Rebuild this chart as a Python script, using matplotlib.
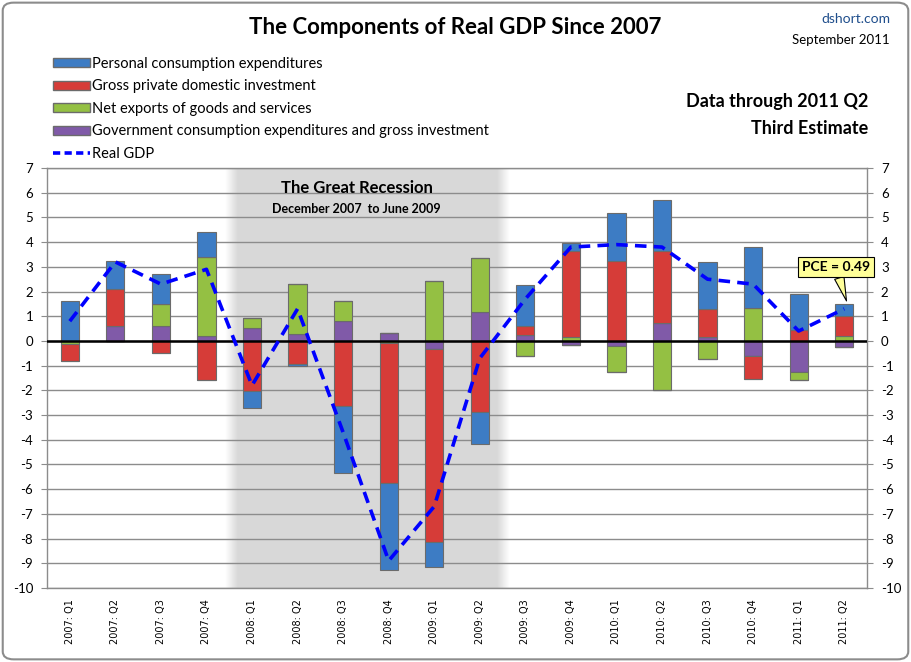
"""
Components of real GDP since 2007 - stacked contributions with real GDP line.
"""
import matplotlib.pyplot as plt
import numpy as np
from matplotlib.lines import Line2D
from matplotlib.patches import FancyBboxPatch, Patch

plt.rcParams["axes.unicode_minus"] = False

# ---------------------------------------------------------------------------
# Data (percentage-point contributions to real GDP growth)
# ---------------------------------------------------------------------------
quarters = ["2007: Q1", "2007: Q2", "2007: Q3", "2007: Q4",
            "2008: Q1", "2008: Q2", "2008: Q3", "2008: Q4",
            "2009: Q1", "2009: Q2", "2009: Q3", "2009: Q4",
            "2010: Q1", "2010: Q2", "2010: Q3", "2010: Q4",
            "2011: Q1", "2011: Q2"]
pce = [1.62, 1.11, 1.22, 1.01, -0.68, -0.08, -2.70, -3.53, -1.01,
       -1.31, 1.66, 0.31, 1.96, 2.07, 1.88, 2.50, 1.46, 0.49]
gpdi = [-0.68, 1.49, -0.47, -1.58, -2.03, -0.93, -2.64, -5.64, -7.80,
        -2.86, 0.36, 3.51, 3.22, 2.92, 1.16, -0.95, 0.45, 0.82]
net_exports = [-0.14, 0.00, 0.88, 3.20, 0.41, 2.03, 0.80, -0.10, 2.41,
               2.20, -0.61, 0.14, -1.04, -2.00, -0.73, 1.32, -0.36, 0.20]
government = [0.00, 0.62, 0.62, 0.18, 0.51, 0.28, 0.82, 0.31, -0.34,
              1.16, 0.24, -0.18, -0.20, 0.73, 0.14, -0.59, -1.24, -0.23]
real_gdp = [0.8, 3.2, 2.3, 2.9, -1.8, 1.3, -3.7, -8.9, -6.7,
            -0.7, 1.7, 3.8, 3.9, 3.8, 2.5, 2.3, 0.4, 1.3]

COLORS = {
    "pce":  "#3d7cc4",
    "gpdi": "#d63c38",
    "nx":   "#94c043",
    "gov":  "#805aa8",
}
EDGE = "#6b6b6b"
FONT = "Lato"

# stacking order used by the original chart (bottom -> top)
stack = [
    (government, COLORS["gov"]),
    (net_exports, COLORS["nx"]),
    (gpdi, COLORS["gpdi"]),
    (pce, COLORS["pce"]),
]

fig = plt.figure(figsize=(9.11, 6.62), dpi=100)
ax = fig.add_axes([0.0516, 0.1118, 0.9001, 0.6344])

x = np.arange(len(quarters))
width = 0.40

# recession shading with soft edges
x0, x1 = 3.40, 9.65
n = 300
fade = np.ones(n)
ramp = 14
fade[:ramp] = np.linspace(0, 1, ramp)
fade[-ramp:] = np.linspace(1, 0, ramp)
shade = np.ones((1, n, 4))
shade[0, :, 0] = shade[0, :, 1] = shade[0, :, 2] = 0.85
shade[0, :, 3] = fade
ax.imshow(shade, extent=(x0, x1, -10, 7), aspect="auto", zorder=0,
          interpolation="bilinear")

# stacked bars, positives and negatives stacked separately
pos_bottom = np.zeros(len(x))
neg_bottom = np.zeros(len(x))
for values, color in stack:
    v = np.array(values)
    pos = np.where(v > 0, v, 0)
    neg = np.where(v < 0, v, 0)
    ax.bar(x, pos, width, bottom=pos_bottom, color=color,
           edgecolor=EDGE, linewidth=0.8, zorder=3)
    ax.bar(x, neg, width, bottom=neg_bottom, color=color,
           edgecolor=EDGE, linewidth=0.8, zorder=3)
    pos_bottom += pos
    neg_bottom += neg

ax.plot(x, real_gdp, color="#0000ff", linewidth=2.6, dashes=(3.2, 2.0),
        zorder=5)
ax.axhline(0, color="black", linewidth=1.8, zorder=4)

# axes
ax.set_xlim(-0.5, 17.5)
ax.set_ylim(-10, 7)
ax.set_yticks(np.arange(-10, 8, 1))
ax.grid(axis="y", color="#8c8c8c", linewidth=1.0, zorder=1)
ax.set_axisbelow(True)
ax.set_xticks(x)
ax.set_xticklabels(quarters, rotation=90, fontsize=7, family="DejaVu Sans",
                   va="top")
ax.tick_params(axis="x", length=0, pad=8)
ax.tick_params(axis="y", which="both", left=True, right=True, labelleft=True,
               labelright=True, length=4, color="#8c8c8c", labelsize=9.5,
               direction="out", pad=6)
for lab in ax.get_yticklabels():
    lab.set_family(FONT)
for side, spine in ax.spines.items():
    spine.set_color("#8c8c8c")
    spine.set_linewidth(1.0)

# recession labels
ax.text(6.3, 6.2, "The Great Recession", ha="center", va="center",
        fontsize=12, fontweight="bold", family=FONT, zorder=6)
ax.text(6.3, 5.35, "December 2007  to June 2009", ha="center", va="center",
        fontsize=9, fontweight="bold", family=FONT, zorder=6)

# callout on the last PCE bar
ax.annotate("PCE = 0.49", xy=(17.05, 1.62), xytext=(16.82, 2.98),
            ha="center", va="center", fontsize=10, fontweight="bold",
            family=FONT, zorder=7,
            bbox=dict(boxstyle="square,pad=0.3", fc="#ffff99", ec="black",
                      lw=0.8),
            arrowprops=dict(arrowstyle="wedge,tail_width=0.7", fc="#ffff99",
                            ec="black", lw=0.8, shrinkA=0, shrinkB=0))

# titles and notes
fig.text(0.5, 0.958, "The Components of Real GDP Since 2007", ha="center",
         va="center", fontsize=16, fontweight="bold", family=FONT)
fig.text(0.977, 0.972, "dshort.com", ha="right", va="center", fontsize=10,
         color="#1f4e8c", family=FONT)
fig.text(0.977, 0.940, "September 2011", ha="right", va="center",
         fontsize=9.5, family=FONT)
fig.text(0.953, 0.846, "Data through 2011 Q2", ha="right", va="center",
         fontsize=13, fontweight="bold", family=FONT)
fig.text(0.953, 0.806, "Third Estimate", ha="right", va="center",
         fontsize=13, fontweight="bold", family=FONT)

# legend
handles = [
    Patch(facecolor=COLORS["pce"], edgecolor=EDGE),
    Patch(facecolor=COLORS["gpdi"], edgecolor=EDGE),
    Patch(facecolor=COLORS["nx"], edgecolor=EDGE),
    Patch(facecolor=COLORS["gov"], edgecolor=EDGE),
    Line2D([], [], color="#0000ff", linewidth=2.6, dashes=(2.0, 1.2)),
]
labels = ["Personal consumption expenditures",
          "Gross private domestic investment",
          "Net exports of goods and services",
          "Government consumption expenditures and gross investment",
          "Real GDP"]
fig.legend(handles, labels, loc="upper left", bbox_to_anchor=(0.0586, 0.914),
           frameon=False, prop={"family": FONT, "size": 10.5},
           handlelength=2.5, handleheight=0.6, handletextpad=0.15,
           labelspacing=0.58, borderaxespad=0, borderpad=0)

# outer rounded border
fig.patches.append(FancyBboxPatch((0.003, 0.004), 0.994, 0.992,
                                  boxstyle="round,pad=0,rounding_size=0.012",
                                  transform=fig.transFigure, fill=False,
                                  edgecolor="#8c8c8c", linewidth=1.5))

fig.savefig("out.png", dpi=100)
